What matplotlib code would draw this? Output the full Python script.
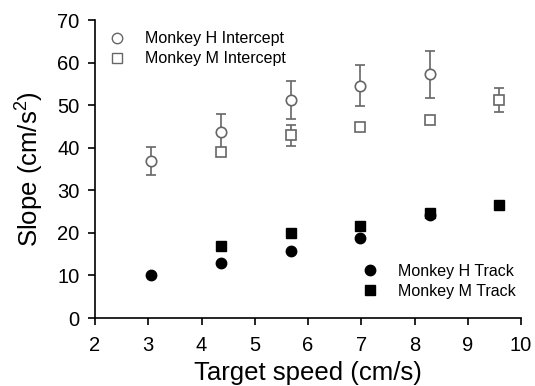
import matplotlib
matplotlib.use("Agg")
import matplotlib.pyplot as plt
from matplotlib.lines import Line2D

plt.rcParams['font.family'] = ['Liberation Sans', 'DejaVu Sans']
plt.rcParams['mathtext.fontset'] = 'custom'
plt.rcParams['mathtext.rm'] = 'Liberation Sans'
plt.rcParams['mathtext.it'] = 'Liberation Sans'

# Monkey H intercept (mean, lower err, upper err)
h_int_x = [3.05, 4.37, 5.68, 6.98, 8.29]
h_int = [36.8, 43.7, 51.1, 54.6, 57.2]
h_int_lo = [3.3, 4.2, 4.3, 4.9, 5.6]
h_int_hi = [3.3, 4.2, 4.5, 4.8, 5.6]

# Monkey M intercept
m_int_x = [4.37, 5.68, 6.98, 8.29, 9.59]
m_int = [39.1, 42.9, 44.8, 46.6, 51.3]
m_int_lo = [0.5, 2.6, 0.5, 0.6, 2.8]
m_int_hi = [0.5, 2.5, 0.5, 0.6, 2.7]

# Track slopes
h_trk_x = [3.05, 4.37, 5.68, 6.98, 8.29]
h_trk = [10.1, 13.0, 15.8, 18.7, 24.2]
m_trk_x = [4.37, 5.68, 6.98, 8.29, 9.59]
m_trk = [16.8, 19.9, 21.6, 24.6, 26.6]

xticks = [2, 3, 4, 5, 6, 7, 8, 9, 10]
yticks = [0, 10, 20, 30, 40, 50, 60, 70]

gray = '#666666'
ms_c, ms_s = 7.5, 6.5

fig = plt.figure(figsize=(5.35, 3.86), dpi=100)
ax = fig.add_axes([95/535, 1-318/386, (521-95)/535, (318-20)/386])

ax.errorbar(h_int_x, h_int, yerr=[h_int_lo, h_int_hi], fmt='none',
            ecolor=gray, elinewidth=1.2, capsize=3.6, capthick=1.2, zorder=2)
ax.errorbar(m_int_x, m_int, yerr=[m_int_lo, m_int_hi], fmt='none',
            ecolor=gray, elinewidth=1.2, capsize=3.6, capthick=1.2, zorder=2)
ax.plot(h_int_x, h_int, 'o', ms=ms_c, mfc='white', mec=gray, mew=1.2, ls='none', zorder=3)
ax.plot(m_int_x, m_int, 's', ms=ms_s, mfc='white', mec=gray, mew=1.2, ls='none', zorder=3)
ax.plot(h_trk_x, h_trk, 'o', ms=ms_c, color='black', ls='none', zorder=3)
ax.plot(m_trk_x, m_trk, 's', ms=ms_s, color='black', ls='none', zorder=3)

ax.set_xlim(2, 10)
ax.set_ylim(0, 70)
ax.set_xticks(xticks)
ax.set_yticks(yticks)
ax.tick_params(direction='out', length=5, width=1.2, labelsize=14.5, pad=6, colors='black')
ax.tick_params(axis='x', pad=8)
for s in ['top', 'right']:
    ax.spines[s].set_visible(False)
for s in ['left', 'bottom']:
    ax.spines[s].set_linewidth(1.2)
ax.set_xlabel('Target speed (cm/s)', fontsize=18.5, labelpad=4)
ax.set_ylabel('Slope (cm/s$^2$)', fontsize=18.5, labelpad=8)

h1 = [Line2D([], [], marker='o', ms=ms_c, mfc='white', mec=gray, mew=1.0, ls='none'),
      Line2D([], [], marker='s', ms=ms_s, mfc='white', mec=gray, mew=1.0, ls='none')]
leg1 = ax.legend(h1, ['Monkey H Intercept', 'Monkey M Intercept'], loc='upper left',
                 bbox_to_anchor=(-0.01, 1.01), frameon=False, fontsize=11.5,
                 handletextpad=1.0, labelspacing=0.3, handlelength=1.5)
ax.add_artist(leg1)
h2 = [Line2D([], [], marker='o', ms=ms_c, color='black', ls='none'),
      Line2D([], [], marker='s', ms=ms_s, color='black', ls='none')]
ax.legend(h2, ['Monkey H Track', 'Monkey M Track'], loc='lower left',
          bbox_to_anchor=(0.584, 0.017), frameon=False, fontsize=11.5,
          handletextpad=1.0, labelspacing=0.3, handlelength=1.5)

fig.savefig('out.png', dpi=100)
